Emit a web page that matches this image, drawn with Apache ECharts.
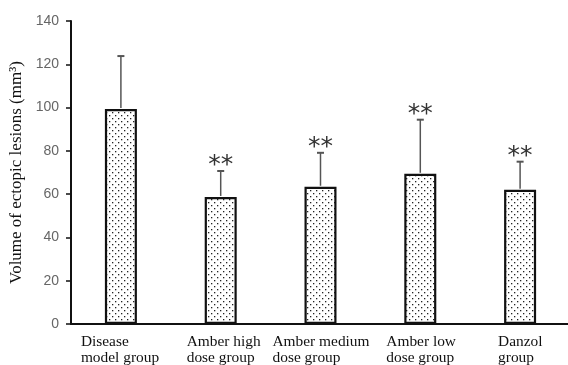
<!DOCTYPE html>
<html>
<head>
<meta charset="utf-8">
<script src="https://cdn.jsdelivr.net/npm/echarts@6/dist/echarts.min.js"></script>
<style>html,body{margin:0;padding:0;background:#fff;}#c{width:568px;height:365px;}</style>
</head>
<body>
<div id="c"></div>
<script>
var categories = ['Disease\nmodel group', 'Amber high\ndose group', 'Amber medium\ndose group', 'Amber low\ndose group', 'Danzol\ngroup'];
var means = [99.3, 58.7, 63.4, 69.4, 62.0];
var upper = [123.8, 70.7, 79.1, 94.4, 75.0];
var marks = ['', '**', '**', '**', '**'];
var yTicks = [0, 20, 40, 60, 80, 100, 120, 140];

// dotted pattern
var pc = document.createElement('canvas');
pc.width = 6; pc.height = 6;
var px = pc.getContext('2d');
px.fillStyle = '#fff'; px.fillRect(0, 0, 6, 6);
px.fillStyle = '#222';
px.fillRect(1, 1, 1.3, 1.3);
px.fillRect(4, 4, 1.3, 1.3);

var labelWidths = [80, 68, 96, 68, 44];
var rich = {};
labelWidths.forEach(function (w, i) {
  rich['w' + i] = { width: w, align: 'left', fontFamily: 'Liberation Serif', fontSize: 15.4, color: '#111', lineHeight: 16 };
});

var chart = echarts.init(document.getElementById('c'));
chart.setOption({
  animation: false,
  grid: { left: 71, right: -2, top: 21, bottom: 41, containLabel: false, outerBoundsMode: 'none' },
  xAxis: {
    type: 'category',
    data: categories,
    axisLine: { lineStyle: { color: '#111', width: 2 } },
    axisTick: { inside: true, length: 5, lineStyle: { color: '#111', width: 1.5 } },
    axisLabel: {
      interval: 0, margin: 10,
      formatter: function (v, i) {
        return v.split('\n').map(function (l) { return '{w' + i + '|' + l + '}'; }).join('\n');
      },
      rich: rich
    }
  },
  yAxis: {
    type: 'value', min: 0, max: 140, interval: 20,
    name: 'Volume of ectopic lesions (mm³)',
    nameLocation: 'middle', nameGap: 45, nameRotate: 90,
    nameTextStyle: { fontFamily: 'Liberation Serif', fontSize: 17, color: '#111' },
    axisLine: { show: true, lineStyle: { color: '#111', width: 2 } },
    axisTick: { show: true, length: 5, lineStyle: { color: '#111', width: 1.5 } },
    axisLabel: { fontFamily: 'Liberation Sans', fontSize: 14, color: '#666', margin: 12 },
    splitLine: { show: false }
  },
  series: [
    {
      type: 'bar', data: means, barWidth: 32,
      itemStyle: { color: { image: pc, repeat: 'repeat' }, borderColor: '#111', borderWidth: 2.2 }
    },
    {
      type: 'custom',
      data: upper.map(function (u, i) { return [i, means[i], u]; }),
      renderItem: function (params, api) {
        var i = api.value(0);
        var lo = api.coord([i, api.value(1)]);
        var hi = api.coord([i, api.value(2)]);
        var children = [
          { type: 'line', shape: { x1: lo[0], y1: lo[1] - 1, x2: hi[0], y2: hi[1] }, style: { stroke: '#555', lineWidth: 1.5 } },
          { type: 'line', shape: { x1: hi[0] - 3.5, y1: hi[1], x2: hi[0] + 3.5, y2: hi[1] }, style: { stroke: '#555', lineWidth: 2 } }
        ];
        if (marks[i]) {
          children.push({ type: 'text', style: { text: marks[i], x: hi[0], y: hi[1] + 7, align: 'center', verticalAlign: 'bottom', fontFamily: 'DejaVu Sans', fontSize: 25, fill: '#333' } });
        }
        return { type: 'group', children: children };
      },
      z: 5
    }
  ]
});
</script>
</body>
</html>
